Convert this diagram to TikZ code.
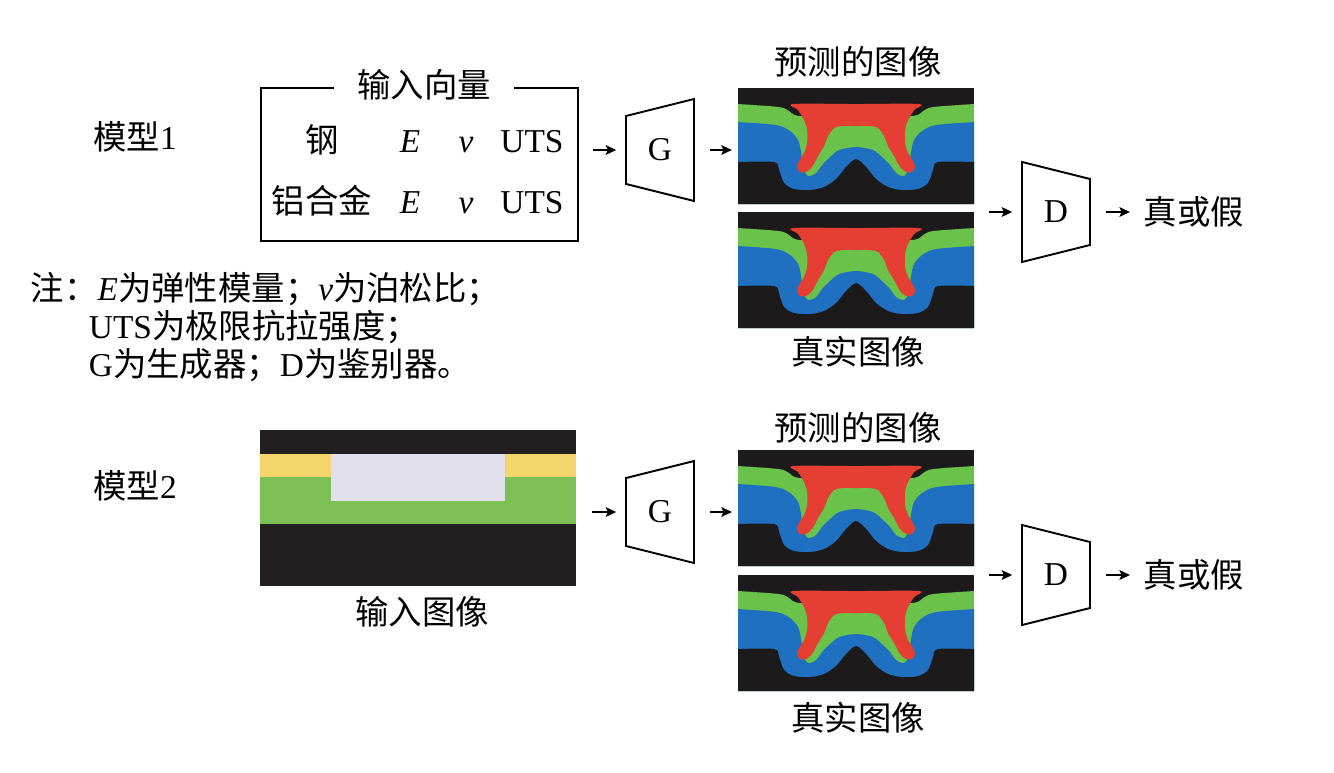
\documentclass[tikz,border=0pt]{standalone}
\usepackage{fontspec}
\usepackage{tikz}
\usetikzlibrary{arrows.meta}
\setmainfont{Liberation Serif}
\newfontfamily\cjk{Noto Sans CJK SC}
\definecolor{xblack}{HTML}{1D1A1B}
\definecolor{xblue}{HTML}{1F70C1}
\definecolor{xgreen}{HTML}{6BC24B}
\definecolor{xred}{HTML}{E53F33}
\definecolor{inblack}{HTML}{231F20}
\definecolor{inyellow}{HTML}{F3D56B}
\definecolor{ingreen}{HTML}{7BBF55}
\definecolor{inwhite}{HTML}{E2DFEC}
\tikzset{
	tx/.style={anchor=base, inner sep=0},
	lbl/.style={inner sep=0},
	gen/.style={minimum width=1.36cm, minimum height=1.36cm, inner sep=0},
	img/.style={minimum width=4.72cm, minimum height=2.32cm, inner sep=0},
	arr/.style={-{Stealth[length=6pt,width=5.5pt,inset=1.2pt]}, line width=1pt, shorten <=8pt, shorten >=5pt},
}
\newcommand{\xsec}{%
	\clip (0,0) rectangle (236,116);
	\fill[xblack] (0,0) rectangle (236,116);
	\fill[xgreen] plot[smooth] coordinates {(0,16) (41,19) (51,23) (62,28) (118,30) (174,28) (185,23) (195,19) (236,16)} -- (236,116) -- (0,116) -- cycle;
	\fill[xblue] plot[smooth] coordinates {(0,34) (38,37) (52,43) (60,52) (63,64) (65,80) (70,88) (78,85) (84,77) (91,70) (101,62) (118,59) (135,62) (145,70) (152,77) (158,85) (166,88) (171,80) (173,64) (176,52) (184,43) (198,37) (236,34)} -- (236,116) -- (0,116) -- cycle;
	\fill[xblack] plot[smooth] coordinates {(0,74) (36,74) (41,82) (46,95) (56,101) (72,102) (86,99) (98,91) (108,79) (118,71) (128,79) (138,91) (150,99) (164,102) (180,101) (190,95) (195,82) (200,74) (236,74)} -- (236,116) -- (0,116) -- cycle;
	\fill[xred] plot[smooth cycle] coordinates {(55,16) (60,22) (66,32) (69,42) (69,55) (66,65) (61,73) (59,79) (62,84) (68,84) (74,79) (80,68) (86,58) (90,48) (96,40) (104,38) (118,38) (132,38) (140,40) (146,48) (150,58) (156,68) (162,79) (168,84) (174,84) (177,79) (175,73) (170,65) (167,55) (167,42) (170,32) (176,22) (181,16) (118,16)};
}

\begin{document}
\begin{tikzpicture}[x=0.02cm, y=-0.02cm, font=\fontsize{19}{21.6}\selectfont, line width=1.1pt]
	\useasboundingbox (0,0) rectangle (1334,773);

	\node[tx] (m1) at (135,150) {{\cjk 模型}1};
	\node[draw, minimum width=6.34cm, minimum height=3.06cm] (vec1) at (419.5,164.5) {};
	\node[fill=white, inner xsep=13pt, inner ysep=1pt] (vecttl) at (424,85) {\cjk 输入向量};
	\foreach \r/\y/\m in {steel/153/钢, alloy/214/铝合金} {
		\node[tx] (\r) at (322,\y) {\cjk \m};
		\node[tx] (\r-E) at (410,\y) {\textit{E}};
		\node[tx] (\r-v) at (466,\y) {\textit{v}};
		\node[tx] (\r-U) at (532,\y) {UTS};
	}

	\node[tx, anchor=base west] (note1) at (30,300) {{\cjk 注：}\textit{E}{\cjk 为弹性模量；}\textit{v}{\cjk 为泊松比；}};
	\node[tx, anchor=base west] (note2) at (88,338) {UTS{\cjk 为极限抗拉强度；}};
	\node[tx, anchor=base west] (note3) at (88,376) {G{\cjk 为生成器；}D{\cjk 为鉴别器。}};

	\node[tx] (m2) at (135,498) {{\cjk 模型}2};
	\node[minimum width=6.32cm, minimum height=3.12cm, inner sep=0] (inimg) at (419,509) {};
	\begin{scope}[shift={(inimg.north west)}]
		\fill[inblack] (0,0) rectangle (316,156);
		\fill[inyellow] (0,24) rectangle (316,47);
		\fill[ingreen] (0,47) rectangle (316,94);
		\fill[inwhite] (71,24) rectangle (245,71);
	\end{scope}
	\node[lbl] (inlbl) at (422,612) {\cjk 输入图像};

	\node[gen] (G1) at (660,150) {G};
	\node[gen] (G2) at (660,512) {G};
	\node[gen] (D1) at (1056,212) {D};
	\node[gen] (D2) at (1056,575) {D};
	\foreach \n in {G1,G2} \draw (\n.center) ++(-34,-34) -- ++(68,-17) -- ++(0,102) -- ++(-68,-17) -- cycle;
	\foreach \n in {D1,D2} \draw (\n.center) ++(-34,-50) -- ++(68,17) -- ++(0,66) -- ++(-68,17) -- cycle;

	\node[img] (pred1) at (857,147) {};
	\node[img] (real1) at (857,271) {};
	\node[img] (pred2) at (857,509) {};
	\node[img] (real2) at (857,634) {};
	\foreach \n in {pred1,real1,pred2,real2} {
		\begin{scope}[shift={(\n.north west)}]
			\xsec
		\end{scope}
	}
	\node[lbl] (pl1) at (858,62) {\cjk 预测的图像};
	\node[lbl] (rl1) at (858,352) {\cjk 真实图像};
	\node[lbl] (pl2) at (858,428) {\cjk 预测的图像};
	\node[lbl] (rl2) at (858,718) {\cjk 真实图像};

	\node[lbl, anchor=west] (tf1) at (1143,212) {\cjk 真或假};
	\node[lbl, anchor=west] (tf2) at (1143,575) {\cjk 真或假};
	\coordinate (pair1) at (pred1.south east |- D1);
	\coordinate (pair2) at (pred2.south east |- D2);

	\draw[arr] (vec1.east |- G1) -- (G1.west);
	\draw[arr] (inimg.east |- G2) -- (G2.west);
	\draw[arr, shorten <=8.5pt, shorten >=3.5pt] (G1.east) -- (pred1.west |- G1.east);
	\draw[arr, shorten <=8.5pt, shorten >=3.5pt] (G2.east) -- (pred2.west |- G2.east);
	\draw[arr, shorten <=7.4pt] (pair1) -- (D1.west);
	\draw[arr, shorten <=7.4pt] (pair2) -- (D2.west);
	\draw[arr, shorten <=8.5pt, shorten >=7.4pt] (D1.east) -- (tf1.west);
	\draw[arr, shorten <=8.5pt, shorten >=7.4pt] (D2.east) -- (tf2.west);
\end{tikzpicture}
\end{document}
